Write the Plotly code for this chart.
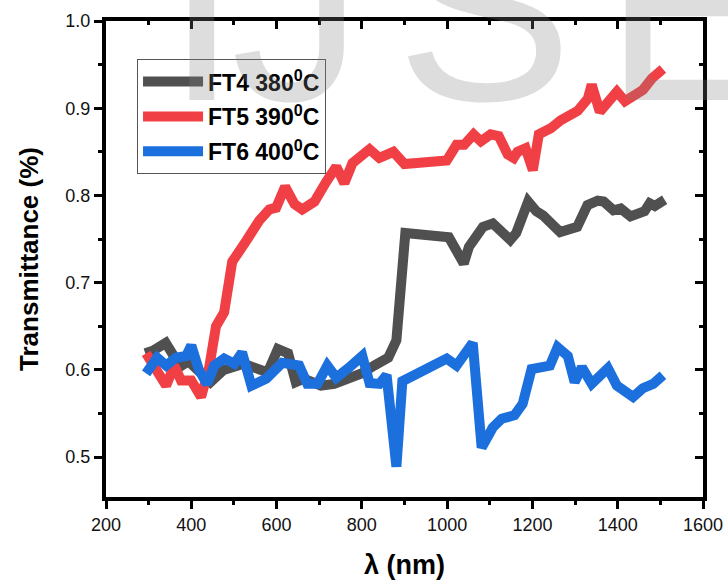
import plotly.graph_objects as go

# FT4 380°C (gray)
ft4_x = [292, 310, 340, 360, 374, 393, 420, 445, 476, 523, 579, 603, 627, 645, 664, 704, 735, 768, 799, 829,
         862, 881, 888, 902, 1004, 1039, 1051, 1084, 1107, 1148, 1162, 1190, 1209, 1225, 1265, 1305, 1329,
         1353, 1367, 1390, 1407, 1430, 1463, 1475, 1487, 1510]
ft4_y = [0.619, 0.622, 0.631, 0.614, 0.604, 0.610, 0.596, 0.586, 0.600, 0.607, 0.597, 0.624, 0.619, 0.586,
         0.590, 0.582, 0.584, 0.590, 0.596, 0.605, 0.614, 0.634, 0.690, 0.757, 0.752, 0.722, 0.741, 0.764,
         0.768, 0.749, 0.757, 0.793, 0.782, 0.777, 0.758, 0.764, 0.789, 0.794, 0.793, 0.783, 0.785, 0.776,
         0.782, 0.791, 0.788, 0.795]

# FT5 390°C (red)
ft5_x = [294, 341, 360, 376, 400, 423, 442, 458, 477, 496, 529, 559, 583, 599, 620, 642, 660, 689, 717, 740,
         759, 778, 818, 841, 874, 900, 999, 1022, 1040, 1062, 1079, 1102, 1121, 1142, 1156, 1165, 1184, 1201,
         1215, 1243, 1266, 1288, 1306, 1330, 1339, 1358, 1377, 1398, 1417, 1445, 1459, 1480, 1506]
ft5_y = [0.619, 0.582, 0.605, 0.588, 0.588, 0.569, 0.603, 0.650, 0.666, 0.724, 0.748, 0.771, 0.784, 0.786,
         0.810, 0.790, 0.784, 0.793, 0.816, 0.833, 0.814, 0.837, 0.853, 0.843, 0.850, 0.836, 0.840, 0.858,
         0.858, 0.870, 0.862, 0.870, 0.868, 0.847, 0.843, 0.850, 0.854, 0.829, 0.870, 0.877, 0.886, 0.893,
         0.897, 0.911, 0.927, 0.896, 0.908, 0.919, 0.908, 0.916, 0.921, 0.934, 0.945]

# FT6 400°C (blue)
ft6_x = [294, 320, 341, 364, 388, 400, 418, 437, 454, 477, 501, 519, 541, 576, 613, 637, 653, 672, 696, 719,
         740, 771, 801, 818, 841, 858, 881, 895, 999, 1022, 1060, 1081, 1107, 1128, 1158, 1177, 1198, 1241,
         1259, 1283, 1299, 1316, 1339, 1377, 1398, 1436, 1459, 1483, 1506]
ft6_y = [0.596, 0.614, 0.605, 0.614, 0.616, 0.628, 0.600, 0.584, 0.605, 0.613, 0.607, 0.620, 0.582, 0.590,
         0.608, 0.605, 0.605, 0.584, 0.584, 0.605, 0.591, 0.603, 0.616, 0.585, 0.584, 0.594, 0.489, 0.587,
         0.613, 0.605, 0.631, 0.511, 0.534, 0.544, 0.548, 0.561, 0.601, 0.605, 0.626, 0.616, 0.586, 0.603,
         0.584, 0.602, 0.582, 0.569, 0.579, 0.584, 0.594]

series_names = ["<b>FT4 380<sup>0</sup>C</b>", "<b>FT5 390<sup>0</sup>C</b>", "<b>FT6 400<sup>0</sup>C</b>"]
series_colors = ["#505050", "#F04045", "#1B70DE"]

x_ticks = [200, 400, 600, 800, 1000, 1200, 1400, 1600]
y_ticks = [0.5, 0.6, 0.7, 0.8, 0.9, 1.0]
watermark_letters = ["I", "J", "S", "E"]

FONT = "Arial, Liberation Sans, sans-serif"
XR = [200, 1600]
YR = [0.4543, 1.0]

fig = go.Figure()
for i, (xs, ys) in enumerate([(ft4_x, ft4_y), (ft5_x, ft5_y), (ft6_x, ft6_y)]):
    fig.add_trace(go.Scatter(x=xs, y=ys, mode="lines", name=series_names[i],
                             legendgroup=f"g{i}",
                             line=dict(color=series_colors[i], width=10)))

axis_common = dict(showline=True, linecolor="black", linewidth=4, showgrid=False, zeroline=False,
                   tickcolor="black", tickwidth=3, ticklen=8, automargin=False,
                   tickfont=dict(family=FONT, size=18, color="#111"))

fig.update_layout(
    width=728, height=585,
    margin=dict(l=106, r=25, t=21, b=88),
    paper_bgcolor="white", plot_bgcolor="white",
    showlegend=True,
    legend=dict(x=0.052, y=0.92, xanchor="left", yanchor="top",
                bgcolor="rgba(0,0,0,0)", bordercolor="#555", borderwidth=1,
                font=dict(family=FONT, size=23, color="black"),
                itemwidth=60, tracegroupgap=2, traceorder="grouped"),
    xaxis=dict(range=XR, tickvals=x_ticks, ticks="outside",
               minor=dict(dtick=100, ticks="outside", ticklen=4, tickwidth=3, tickcolor="black"),
               title=dict(text="<b>λ (nm)</b>", font=dict(family=FONT, size=27, color="black"), standoff=23),
               **axis_common),
    yaxis=dict(range=YR, tickvals=y_ticks, ticktext=[f"{v:.1f}" for v in y_ticks], ticks="outside",
               minor=dict(dtick=0.05, ticks="outside", ticklen=4, tickwidth=3, tickcolor="black"),
               title=dict(text="<b>Transmittance (%)</b>", font=dict(family=FONT, size=26, color="black"), standoff=20),
               **axis_common),
    xaxis2=dict(range=XR, overlaying="x", side="top", tickvals=x_ticks, ticks="inside",
                showticklabels=False, showline=True, linecolor="black", linewidth=4, showgrid=False,
                zeroline=False, tickcolor="black", tickwidth=3, ticklen=8,
                minor=dict(dtick=100, ticks="inside", ticklen=4, tickwidth=3, tickcolor="black")),
    yaxis2=dict(range=YR, overlaying="y", side="right", tickvals=y_ticks, ticks="inside",
                showticklabels=False, showline=True, linecolor="black", linewidth=4, showgrid=False,
                zeroline=False, tickcolor="black", tickwidth=3, ticklen=8,
                minor=dict(dtick=0.05, ticks="inside", ticklen=4, tickwidth=3, tickcolor="black")),
)
# invisible trace to activate secondary axes
fig.add_trace(go.Scatter(x=[None], y=[None], xaxis="x2", yaxis="y2", showlegend=False, hoverinfo="skip"))

# watermark letters (pixel centers converted to paper coordinates)
wm_px = [202, 297, 484, 692]
for letter, px in zip(watermark_letters, wm_px):
    fig.add_annotation(text=letter, xref="paper", yref="paper",
                       x=(px - 106) / 597, y=(497 - 158) / 476,
                       xanchor="center", yanchor="bottom", showarrow=False,
                       font=dict(family=FONT, size=265, color="rgba(128,128,128,0.27)"))

fig.write_html("out.html")
